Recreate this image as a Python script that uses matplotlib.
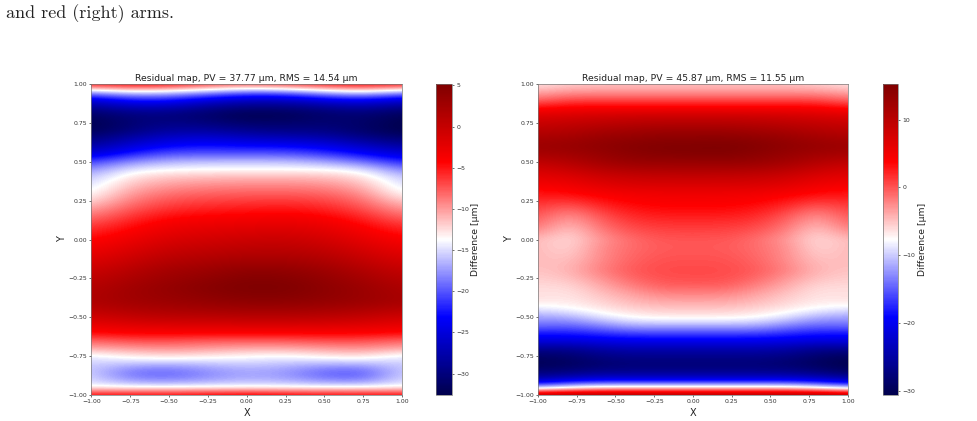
import matplotlib
matplotlib.use('Agg')
import matplotlib.pyplot as plt

# Residuals [um] on regular grids, rows run from y = +1 down to y = -1 in steps of 0.05
BLUE_X = [-1.0, -0.75, -0.5, -0.25, 0.0, 0.25, 0.5, 0.75, 1.0]
BLUE_Z = [
    [-4.5, -3.5, -4, -6, -7, -6, -4.5, -3.5, -4.5],
    [-17, -14.5, -15, -17, -19, -18.5, -16, -14, -17],
    [-25, -22, -22, -24.5, -26, -26, -24, -23, -25],
    [-29, -27, -27, -29, -30, -30, -29, -28, -29.5],
    [-31.5, -30, -30, -31, -32.4, -32, -31, -30.5, -32],
    [-32.4, -30.5, -29.5, -30, -31, -31, -30.5, -31, -32.5],
    [-32, -30, -28, -28, -29, -29.5, -29.5, -31, -32.5],
    [-30, -27.5, -25.5, -25, -26, -26.5, -27, -29, -30.5],
    [-28, -25, -23, -22.5, -23, -23, -24, -26, -28],
    [-25, -22, -20, -20, -20, -20, -21, -23, -25],
    [-21, -18, -16.5, -16, -16, -16, -17, -19, -22],
    [-18, -14.5, -13.8, -13.6, -13.6, -13.6, -13.6, -14.5, -18.5],
    [-16, -12.5, -11.5, -11.2, -11, -11, -11.2, -12.3, -16],
    [-15, -11.3, -10, -9.5, -9.3, -9.3, -9.5, -11, -15],
    [-14, -10, -8.5, -8, -7.8, -7.8, -8, -9.5, -14],
    [-12.5, -8.8, -7.2, -6.7, -6.5, -6.3, -6.7, -8.2, -12],
    [-10.5, -7.5, -6, -5.5, -5.2, -5, -5.5, -7, -10],
    [-8.7, -6.2, -4.7, -4.2, -4, -3.7, -4.2, -5.7, -8.2],
    [-7, -5, -3.5, -3, -2.8, -2.5, -3, -4.5, -6.5],
    [-5.7, -4, -2.5, -2, -1.6, -1.4, -2, -3.5, -5.2],
    [-4.5, -3, -1.5, -1, -0.5, -0.3, -1, -2.5, -4],
    [-3.5, -2, -0.5, 0, 0.5, 0.6, 0, -1.5, -3],
    [-2.5, -1, 0.5, 1, 1.5, 1.5, 1, -0.5, -2],
    [-1.5, 0, 1.5, 2, 2.8, 2.7, 2, 0.5, -1],
    [-0.5, 1, 2.5, 3, 4, 3.8, 3, 1.5, 0],
    [0.3, 1.8, 3, 3.8, 4.7, 4.6, 3.6, 2.3, 0.8],
    [1, 2.5, 3.5, 4.5, 5.1, 5.1, 4, 3, 1.5],
    [1.4, 2.7, 3.4, 4.2, 4.8, 4.8, 4, 3.1, 1.9],
    [1.5, 2.5, 3, 3.5, 4, 4, 3.5, 3, 2],
    [0.5, 1.5, 2, 2.3, 2.6, 2.6, 2.2, 1.7, 0.7],
    [-1, 0, 0.5, 0.5, 0.8, 0.8, 0.5, 0, -1],
    [-2.7, -2, -1.7, -1.7, -1.5, -1.5, -1.7, -2, -2.7],
    [-4.5, -4, -4, -4, -4, -4, -4, -4, -4.5],
    [-8, -7, -7, -7.5, -7.5, -7.5, -7, -7, -8],
    [-10.5, -10, -9.5, -10, -10.5, -10.5, -10, -9.5, -10.5],
    [-14.5, -13, -12.5, -13, -13.6, -14, -13, -12.5, -14.5],
    [-15.5, -16, -16.5, -16, -15.5, -16, -16.5, -16.5, -15.5],
    [-15.5, -19, -19.5, -18, -17, -17.5, -19.5, -20, -15.5],
    [-15, -18, -18.5, -17.5, -16.5, -17, -18.5, -19, -15],
    [-13.8, -14, -14, -14, -14, -14, -14, -14, -13.8],
    [-4, -4, -4, -3.5, -3, -3.5, -4, -4, -4],
]

RED_X = [-1.0, -0.8, -0.6, -0.4, -0.2, 0.0, 0.2, 0.4, 0.6, 0.8, 1.0]
RED_Z = [
    [-6.5, -5.5, -5, -5, -5, -5, -5, -5, -5, -5.5, -6.5],
    [-4, -3, -3, -3, -3, -3, -3, -3, -3, -3, -4],
    [-1, 0.5, 0.5, 0.5, 0.5, 0.5, 0.5, 0.5, 0.5, 0.5, -1],
    [3, 4, 4, 4, 4, 4, 4, 4, 4, 4, 3],
    [6.5, 7, 7.5, 7.8, 8, 8, 8, 7.8, 7.5, 7, 6.5],
    [8.5, 9, 9.5, 10, 10.2, 10.2, 10.2, 10, 9.5, 9, 8.5],
    [10, 10.5, 11.5, 12, 12.5, 12.5, 12.5, 12, 11.5, 10.5, 10],
    [11.5, 12, 13, 13.5, 14, 14, 14.2, 13.7, 13, 12, 11.5],
    [12.5, 13, 13.7, 14.5, 15, 15, 15.2, 14.7, 13.7, 13, 12.5],
    [11.5, 12, 13, 14, 14.5, 14.7, 14.8, 14, 13, 12, 11.5],
    [9.5, 10.5, 12, 13, 13, 13, 13.2, 13, 12, 10.5, 9.5],
    [7.5, 8.5, 10, 10.8, 11, 11, 11, 10.8, 10, 8.5, 7.5],
    [6, 6.5, 8, 8.5, 8.8, 8.8, 8.8, 8.5, 8, 6.5, 6],
    [4.5, 5, 6.3, 7, 7, 7, 7, 7, 6.3, 5, 4.5],
    [3, 3.5, 4.5, 5, 5.2, 5.2, 5.2, 5, 4.5, 3.5, 3],
    [2, 1.5, 3, 4, 4.3, 4.3, 4.3, 4, 3, 1.5, 2],
    [1, -1, 1.5, 3, 3.5, 3.5, 3.5, 3, 1.5, -1, 1],
    [0, -3, 0, 2, 2.5, 2.5, 2.5, 2, 0, -3, 0],
    [-1, -4.5, -1, 1, 1.5, 1.5, 1.5, 1, -1, -4.5, -1],
    [-2.5, -5.7, -2, 0, 0.7, 0.7, 0.7, 0, -2, -5.7, -2.5],
    [-4.5, -6.2, -3, -1, 0, 0, 0, -1, -3, -6.2, -4.5],
    [-4.5, -6, -2.5, -1, -0.2, -0.2, -0.2, -1, -2.5, -6, -4.5],
    [-4.5, -5.5, -2.5, -0.8, 0, 0, 0, -0.8, -2.5, -5.5, -4.5],
    [-4.7, -4.8, -2.3, -0.5, 0.3, 0.3, 0.3, -0.5, -2.3, -4.8, -4.7],
    [-5, -4.5, -2, -0.2, 0.5, 0.5, 0.5, -0.2, -2, -4.5, -5],
    [-5.5, -5, -3, -0.8, 0.2, 0.3, 0.3, -0.8, -3, -5, -5.5],
    [-6, -6, -4, -2, -0.5, -0.5, -0.5, -2, -4, -6, -6],
    [-6.3, -6.5, -5, -3.5, -2.2, -2.2, -2.2, -3.5, -5, -6.5, -6.3],
    [-6.5, -6.8, -5.8, -4.5, -3.8, -3.8, -3.8, -4.5, -5.8, -6.8, -6.5],
    [-9, -8, -6.8, -5.8, -5.3, -5.3, -5.3, -5.8, -6.8, -8, -9],
    [-12, -11.5, -9, -7.5, -7, -7, -7, -7.5, -9, -11.5, -12],
    [-14, -14.5, -13, -11, -11, -11, -11, -11, -13, -14.5, -14],
    [-18, -18, -17, -16, -16, -16, -16, -16, -17, -18, -18],
    [-21, -21, -20.5, -20, -20, -20, -20, -20, -20.5, -21, -21],
    [-26, -26, -24.5, -24, -24, -24, -24, -24, -24.5, -26, -26],
    [-29, -28.5, -27, -26.5, -26.5, -26.5, -26.5, -26.5, -27, -28.5, -29.5],
    [-30, -29.5, -28.5, -28, -28, -28, -28, -28, -28.5, -29.5, -30.6],
    [-28, -27.5, -26.5, -26.5, -26.5, -26.5, -26.5, -26.5, -26.5, -27.5, -29],
    [-24, -22, -21, -21, -21, -21, -21, -21, -21, -22, -24],
    [-12, -9, -7, -7, -7, -7, -7, -7, -7, -9, -12],
    [11, 12, 12, 12, 12, 12, 12, 12, 12, 12, 11],
]

BLUE_RANGE = (-32.6, 5.18)
RED_RANGE = (-30.63, 15.24)
TICKS = [-1.0, -0.75, -0.5, -0.25, 0.0, 0.25, 0.5, 0.75, 1.0]
BLUE_CTICKS = [5, 0, -5, -10, -15, -20, -25, -30]
RED_CTICKS = [10, 0, -10, -20, -30]
BLUE_TITLE = 'Residual map, PV = 37.77 µm, RMS = 14.54 µm'
RED_TITLE = 'Residual map, PV = 45.87 µm, RMS = 11.55 µm'
CAPTION = 'and red (right) arms.'

W, H = 978, 421
ROW_STEP = 0.05


def add_axes_px(fig, left, top, right, bottom):
    return fig.add_axes([left / W, 1 - bottom / H, (right - left) / W, (bottom - top) / H])


def residual_panel(fig, box, cbox, x, z, vrange, cticks, title):
    ax = add_axes_px(fig, *box)
    cax = add_axes_px(fig, *cbox)

    # Samples sit on the pixel centres, so the extent reaches half a step past the limits
    half_x = (x[1] - x[0]) / 2
    extent = [x[0] - half_x, x[-1] + half_x, -1 - ROW_STEP / 2, 1 + ROW_STEP / 2]
    img = ax.imshow(z, cmap='seismic', vmin=vrange[0], vmax=vrange[1], extent=extent,
                    aspect='auto', interpolation='bicubic')
    ax.set_xlim(-1, 1)
    ax.set_ylim(-1, 1)
    ax.set_xticks(TICKS)
    ax.set_yticks(TICKS)
    ax.xaxis.set_major_formatter('{x:.2f}')
    ax.yaxis.set_major_formatter('{x:.2f}')
    ax.tick_params(labelsize=4.4, length=1.5, width=0.4, pad=1.5, labelcolor='#333333')
    ax.set_xlabel('X', fontsize=7, labelpad=2.5, color='#222222')
    ax.set_ylabel('Y', fontsize=7, labelpad=1, color='#222222')
    ax.set_title(title, fontsize=6.7, pad=2.2, color='#222222')
    for spine in ax.spines.values():
        spine.set_linewidth(0.5)
        spine.set_color('#777777')

    cb = fig.colorbar(img, cax=cax)
    cb.set_ticks(cticks)
    cb.ax.tick_params(labelsize=4.4, length=1.5, width=0.4, pad=1.5, labelcolor='#333333')
    cb.set_label('Difference [µm]', fontsize=6.7, labelpad=1.5, color='#222222')
    cb.outline.set_linewidth(0.5)
    cb.outline.set_edgecolor('#777777')


fig = plt.figure(figsize=(W / 100, H / 100), dpi=100)

fig.text(6 / W, 1 - 18 / H, CAPTION, family='cmr10', fontsize=13, color='#222222')

residual_panel(fig, (91.5, 84, 402, 395), (436.5, 84, 452, 395), BLUE_X, BLUE_Z,
               BLUE_RANGE, BLUE_CTICKS, BLUE_TITLE)
residual_panel(fig, (538, 84, 848, 395), (883, 84, 898.5, 395), RED_X, RED_Z,
               RED_RANGE, RED_CTICKS, RED_TITLE)

fig.savefig('out.png', dpi=100)
